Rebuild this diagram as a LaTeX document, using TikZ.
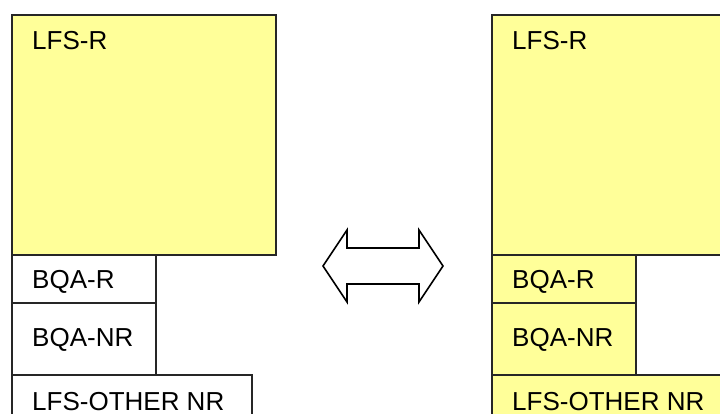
\documentclass[tikz,border=0pt]{standalone}
\usepackage{fontspec}
\setmainfont{Liberation Sans}
\definecolor{boxyellow}{HTML}{FFFF99}
\begin{document}
\begin{tikzpicture}[x=1pt,y=-1pt,
  box/.style={draw=black!85,line width=2pt,rectangle,inner sep=0pt,anchor=north west},
  lbl/.style={anchor=base west,inner sep=0pt,font=\fontsize{26}{31}\selectfont},
  arrowshape/.style={draw=black,line width=1.6pt,fill=white,line join=miter}]
\useasboundingbox (0,0) rectangle (720,414);
\clip (0,0) rectangle (720,414);
% left stack
\node[box,fill=boxyellow,minimum width=264pt,minimum height=240pt] (lr) at (11,14) {};
\node[box,fill=white,minimum width=144pt,minimum height=48pt] (lbr) at (11,254) {};
\node[box,fill=white,minimum width=144pt,minimum height=72pt] (lbn) at (11,302) {};
\node[box,fill=white,minimum width=240pt,minimum height=60pt] (lo) at (11,374) {};
\node[lbl] (tlr) at (32,50) {LFS-R};
\node[lbl] (tlbr) at (32,288) {BQA-R};
\node[lbl] (tlbn) at (32,346) {BQA-NR};
\node[lbl] (tlo) at (32,410) {LFS-OTHER NR};
% right stack
\node[box,fill=boxyellow,minimum width=264pt,minimum height=240pt] (rr) at (491,14) {};
\node[box,fill=boxyellow,minimum width=144pt,minimum height=48pt] (rbr) at (491,254) {};
\node[box,fill=boxyellow,minimum width=144pt,minimum height=72pt] (rbn) at (491,302) {};
\node[box,fill=boxyellow,minimum width=264pt,minimum height=60pt] (ro) at (491,374) {};
\node[lbl] (trr) at (512,50) {LFS-R};
\node[lbl] (trbr) at (512,288) {BQA-R};
\node[lbl] (trbn) at (512,346) {BQA-NR};
\node[lbl] (tro) at (512,410) {LFS-OTHER NR};
% double arrow
\coordinate (ltip) at (323,266);
\coordinate (rtip) at (443,266);
\draw[arrowshape] (ltip) -- (347,230) -- (347,248) -- (419,248) -- (419,230) -- (rtip)
  -- (419,302) -- (419,284) -- (347,284) -- (347,302) -- cycle;
\end{tikzpicture}
\end{document}
